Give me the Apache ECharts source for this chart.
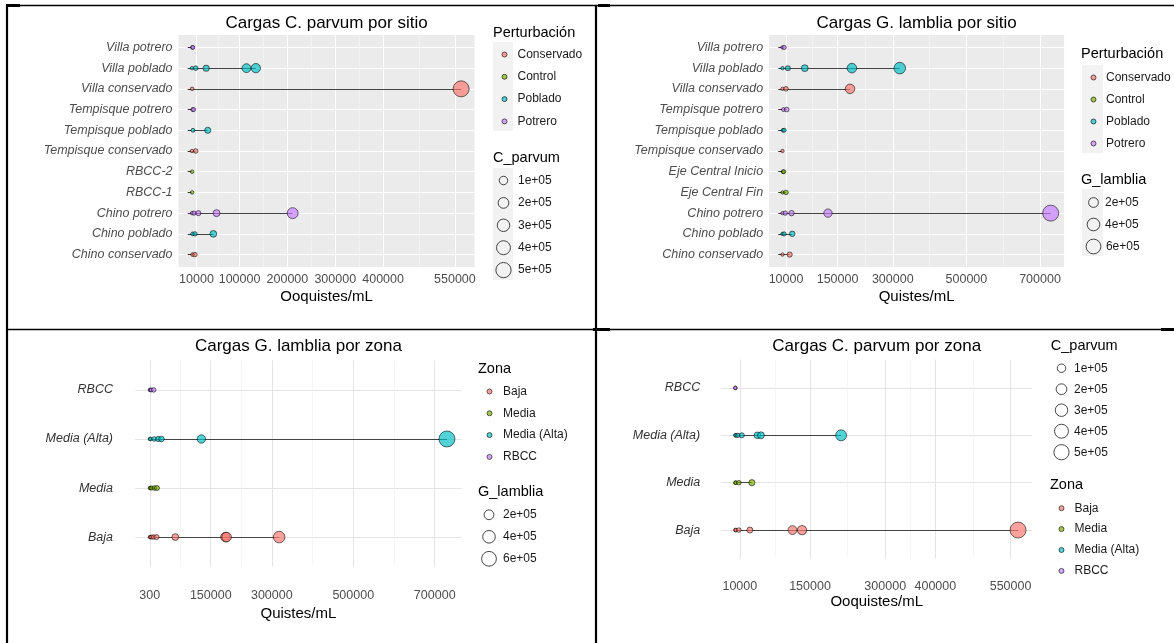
<!DOCTYPE html>
<html><head><meta charset="utf-8">
<script src="https://cdn.jsdelivr.net/npm/echarts@6/dist/echarts.min.js"></script>
<style>html,body{margin:0;padding:0;background:#fff}#c{width:1174px;height:643px}</style>
</head><body><div id="c"></div>
<script>
const FONT = '"Liberation Sans", Arial, Helvetica, sans-serif';
const palette = ['#F8766D', '#7CAE00', '#00BFC4', '#C77CFF'];
const perturbLevels = ['Conservado', 'Control', 'Poblado', 'Potrero'];
const zoneLevels = ['Baja', 'Media', 'Media (Alta)', 'RBCC'];

// Panel 1: C. parvum por sitio
const cpSitioCats = ['Villa potrero', 'Villa poblado', 'Villa conservado', 'Tempisque potrero', 'Tempisque poblado', 'Tempisque conservado', 'RBCC-2', 'RBCC-1', 'Chino potrero', 'Chino poblado', 'Chino conservado'];
const cpSitioGroup = ['Potrero', 'Poblado', 'Conservado', 'Potrero', 'Poblado', 'Conservado', 'Control', 'Control', 'Potrero', 'Poblado', 'Conservado'];
const cpSitioVals = [[1500, 2500], [600, 8400, 30300, 114500, 134100], [1000, 563000], [2000, 4000], [2700, 33600], [600, 8400], [1000], [1000], [1000, 5000, 14000, 52000, 211000], [2000, 6900, 45300], [2000, 6900]];
const cpSitioTicks = [10000, 100000, 200000, 300000, 400000, 550000];
const cpSizeBreaks = [100000, 200000, 300000, 400000, 500000];

// Panel 2: G. lamblia por sitio
const glSitioCats = ['Villa potrero', 'Villa poblado', 'Villa conservado', 'Tempisque potrero', 'Tempisque poblado', 'Tempisque conservado', 'Eje Central Inicio', 'Eje Central Fin', 'Chino potrero', 'Chino poblado', 'Chino conservado'];
const glSitioGroup = ['Potrero', 'Poblado', 'Conservado', 'Potrero', 'Poblado', 'Conservado', 'Control', 'Control', 'Potrero', 'Poblado', 'Conservado'];
const glSitioVals = [[500, 5000], [500, 15000, 61000, 189000, 319000], [500, 10000, 184000], [3000, 12000], [2000, 5000], [500], [2000, 4000], [500, 10000], [500, 8000, 25000, 124000, 729000], [500, 5000, 27000], [500, 20000]];
const glSitioTicks = [10000, 150000, 300000, 500000, 700000];
const glSizeBreaks = [200000, 400000, 600000];

// Panels 3 and 4: por zona
const zonaCats = ['RBCC', 'Media (Alta)', 'Media', 'Baja'];
const glZonaVals = [[500, 2000, 4000, 10000], [500, 2000, 11000, 21000, 29000, 127000, 730000], [500, 2000, 5000, 12000, 18000], [500, 2000, 5000, 10000, 17000, 63000, 186000, 189000, 318000]];
const glZonaTicks = [300, 150000, 300000, 500000, 700000];
const cpZonaVals = [[1000, 1000], [1000, 2000, 6000, 14000, 45000, 52000, 212000], [1000, 2000, 8000, 34000], [1000, 2000, 8000, 30000, 115000, 134000, 565000]];
const cpZonaTicks = [10000, 150000, 300000, 400000, 550000];

const panels = [
  { title: 'Cargas C. parvum por sitio', cats: cpSitioCats, groups: cpSitioGroup, vals: cpSitioVals, ticks: cpSitioTicks,
    levels: perturbLevels, sizeBreaks: cpSizeBreaks, colorTitle: 'Perturbación', sizeTitle: 'C_parvum', xName: 'Ooquistes/mL', gray: true,
    grid: { left: 178.5, top: 35, width: 296.1, height: 232 }, titleY: 25, labelMargin: 6, nameGap: 22, yMargin: 6,
    colorLeg: { x: 493, titleY: 34, y0: 54.5, step: 22.3, cx: 504, tx: 517.5 },
    sizeLeg: { x: 493, titleY: 159, y0: 180.5, step: 22.4, cx: 503, tx: 518 },
    keyBg: [[493, 42, 20, 89], [493, 168, 20, 112]] },
  { title: 'Cargas G. lamblia por sitio', cats: glSitioCats, groups: glSitioGroup, vals: glSitioVals, ticks: glSitioTicks,
    levels: perturbLevels, sizeBreaks: glSizeBreaks, colorTitle: 'Perturbación', sizeTitle: 'G_lamblia', xName: 'Quistes/mL', gray: true,
    grid: { left: 769.1, top: 35, width: 295, height: 232 }, titleY: 25, labelMargin: 6, nameGap: 22, yMargin: 6,
    colorLeg: { x: 1081, titleY: 55, y0: 77.5, step: 22, cx: 1093, tx: 1106 },
    sizeLeg: { x: 1081, titleY: 181, y0: 202.5, step: 22, cx: 1093, tx: 1105 },
    keyBg: [[1082, 65, 21, 88], [1082, 189, 21, 67]] },
  { title: 'Cargas G. lamblia por zona', cats: zonaCats, groups: zonaCats, vals: glZonaVals, ticks: glZonaTicks,
    levels: zoneLevels, sizeBreaks: glSizeBreaks, colorTitle: 'Zona', sizeTitle: 'G_lamblia', xName: 'Quistes/mL', gray: false,
    grid: { left: 135, top: 360.5, width: 326.8, height: 206 }, titleY: 348, labelMargin: 23, nameGap: 40, yMargin: 22,
    colorLeg: { x: 478, titleY: 370, y0: 391.5, step: 21.8, cx: 489, tx: 503 },
    sizeLeg: { x: 478, titleY: 493, y0: 514.8, step: 22, cx: 488.5, tx: 503 },
    keyBg: [] },
  { title: 'Cargas C. parvum por zona', cats: zonaCats, groups: zonaCats, vals: cpZonaVals, ticks: cpZonaTicks,
    levels: zoneLevels, sizeBreaks: cpSizeBreaks, colorTitle: 'Zona', sizeTitle: 'C_parvum', xName: 'Ooquistes/mL', gray: false,
    grid: { left: 721.2, top: 359.5, width: 311, height: 199 }, titleY: 348, labelMargin: 22, nameGap: 36, yMargin: 21,
    colorLeg: { x: 1050, titleY: 486.3, y0: 508.2, step: 20.9, cx: 1061, tx: 1074.5 },
    sizeLeg: { x: 1050.8, titleY: 347, y0: 368.2, step: 21, cx: 1061, tx: 1074 },
    keyBg: [] }
];

const ICON_TEXT_GAP = 5.5; // gap the library leaves between a legend icon and its text

function rgba(hex, a) {
  const n = parseInt(hex.slice(1), 16);
  return 'rgba(' + (n >> 16 & 255) + ',' + (n >> 8 & 255) + ',' + (n & 255) + ',' + a + ')';
}
function sizeLabel(v) { return (v / 100000) + 'e+05'; }
function dotSize(v, vmax) { return 3 + 13 * Math.sqrt(Math.max(v, 0) / vmax); }

const option = {
  animation: false,
  textStyle: { fontFamily: FONT },
  grid: [], xAxis: [], yAxis: [], series: [], legend: [], title: [], graphic: []
};
const dummyNames = new Set();

panels.forEach((p, pi) => {
  const all = p.vals.flat();
  const mn = Math.min(...all), mx = Math.max(...all);
  const pad = (mx - mn) * 0.05;
  const xmin = mn - pad, xmax = mx + pad;
  const minors = [];
  for (let i = 0; i < p.ticks.length - 1; i++) minors.push((p.ticks[i] + p.ticks[i + 1]) / 2);
  const majorCol = p.gray ? '#FFFFFF' : '#E4E4E4';
  const minorCol = p.gray ? '#F7F7F7' : '#F0F0F0';
  const idx = p.cats.map((c, i) => i);

  option.grid.push({ left: p.grid.left, top: p.grid.top, width: p.grid.width, height: p.grid.height,
    show: p.gray, backgroundColor: '#EBEBEB', borderWidth: 0 });

  option.xAxis.push({
    type: 'value', gridIndex: pi, min: xmin, max: xmax, position: 'bottom',
    name: p.xName, nameLocation: 'middle', nameGap: p.nameGap,
    nameTextStyle: { fontSize: 15, color: '#000', fontFamily: FONT },
    axisLine: { show: false },
    axisTick: { show: false, customValues: p.ticks },
    axisLabel: { customValues: p.ticks, margin: p.labelMargin, fontSize: 12.5, color: '#4D4D4D', fontFamily: FONT, formatter: v => String(Math.round(v)) },
    splitLine: { show: true, lineStyle: { color: majorCol, width: p.gray ? 1.1 : 1 } }
  });
  option.xAxis.push({
    type: 'value', gridIndex: pi, min: xmin, max: xmax, position: 'top',
    axisLine: { show: false }, axisLabel: { show: false },
    axisTick: { show: false, customValues: minors },
    splitLine: { show: true, lineStyle: { color: minorCol, width: 0.6 } }
  });
  option.yAxis.push({
    type: 'value', gridIndex: pi, min: -0.6, max: p.cats.length - 0.4, inverse: true,
    axisLine: { show: false },
    axisTick: { show: p.gray, customValues: idx, length: 4, lineStyle: { color: '#333333', width: 1 } },
    axisLabel: { customValues: idx, margin: p.yMargin, fontSize: 12.5, fontStyle: 'italic', color: p.gray ? '#4D4D4D' : '#333333', fontFamily: FONT,
      formatter: v => p.cats[Math.round(v)] },
    splitLine: { show: true, lineStyle: { color: majorCol, width: p.gray ? 1.1 : 1 } }
  });

  // segment from min to max for each row
  option.series.push({
    type: 'lines', coordinateSystem: 'cartesian2d', xAxisIndex: 2 * pi, yAxisIndex: pi, silent: true, z: 2,
    lineStyle: { color: '#444444', width: 1, opacity: 1 },
    data: p.vals.map((a, i) => ({ coords: [[Math.min(...a), i], [Math.max(...a), i]] }))
  });
  p.levels.forEach((lv, k) => {
    const data = [];
    p.vals.forEach((a, i) => { if (p.groups[i] === lv) a.forEach(v => data.push([v, i])); });
    option.series.push({
      type: 'scatter', name: lv, xAxisIndex: 2 * pi, yAxisIndex: pi, z: 3,
      symbolSize: d => dotSize(d[0], mx),
      itemStyle: { color: rgba(palette[k], 0.85), borderColor: 'rgba(0,0,0,0.7)', borderWidth: 1 },
      data
    });
  });

  // titles
  option.title.push({ text: p.title, left: p.grid.left + p.grid.width / 2, top: p.titleY - 10, textAlign: 'center', padding: 0,
    textStyle: { fontSize: 17, fontWeight: 'normal', color: '#000', fontFamily: FONT } });
  option.title.push({ text: p.colorTitle, left: p.colorLeg.x, top: p.colorLeg.titleY - 9, padding: 0,
    textStyle: { fontSize: 14.5, fontWeight: 'normal', color: '#000', fontFamily: FONT } });
  option.title.push({ text: p.sizeTitle, left: p.sizeLeg.x, top: p.sizeLeg.titleY - 9, padding: 0,
    textStyle: { fontSize: 14.5, fontWeight: 'normal', color: '#000', fontFamily: FONT } });

  // colour legend (square icon box; text shifted by padding)
  const cl = p.colorLeg;
  option.legend.push({
    orient: 'vertical', left: cl.cx - 2.5, top: cl.y0 - cl.step / 2, padding: 0, itemGap: 0,
    itemWidth: 5, itemHeight: 5, selectedMode: false, icon: 'circle',
    textStyle: { fontSize: 12, lineHeight: cl.step, color: '#1A1A1A', fontFamily: FONT, padding: [0, 0, 0, Math.max(0, cl.tx - cl.cx - 2.5 - ICON_TEXT_GAP)] },
    data: p.levels.map((n, k) => ({ name: n, itemStyle: { color: rgba(palette[k], 0.85), borderColor: 'rgba(0,0,0,0.75)', borderWidth: 1 } }))
  });
  // size legend: one component per break
  const sl = p.sizeLeg;
  p.sizeBreaks.forEach((b, j) => {
    const nm = sizeLabel(b);
    dummyNames.add(nm);
    const d = dotSize(b, mx);
    option.legend.push({
      orient: 'vertical', left: sl.cx - d / 2, top: sl.y0 + j * sl.step - 11, padding: 0,
      itemWidth: d, itemHeight: d, selectedMode: false, icon: 'circle',
      textStyle: { fontSize: 12, lineHeight: 22, color: '#1A1A1A', fontFamily: FONT, padding: [0, 0, 0, Math.max(0, sl.tx - sl.cx - d / 2 - ICON_TEXT_GAP)] },
      data: [{ name: nm, itemStyle: { color: 'rgba(255,255,255,0)', borderColor: '#1A1A1A', borderWidth: 1 } }]
    });
  });
  p.keyBg.forEach(r => option.graphic.push({ type: 'rect', shape: { x: r[0], y: r[1], width: r[2], height: r[3] }, style: { fill: '#F2F2F2' }, z: 0 }));
});

dummyNames.forEach(nm => option.series.push({ type: 'scatter', name: nm, xAxisIndex: 0, yAxisIndex: 0, data: [] }));

// table borders
const L = (x1, y1, x2, y2, w) => ({ type: 'line', shape: { x1, y1, x2, y2 }, style: { stroke: '#000', lineWidth: w }, z: 10 });
option.graphic.push(
  L(6, 5.5, 1174, 5.5, 1.3), L(6, 5.5, 20, 5.5, 3), L(598, 5.5, 610, 5.5, 3),
  L(7, 5, 7, 643, 2.2), L(596, 5, 596, 643, 2.2),
  L(6, 329.5, 1174, 329.5, 1.3), L(593, 329.5, 610, 329.5, 3), L(1161, 329.5, 1174, 329.5, 3)
);

const chart = echarts.init(document.getElementById('c'), null, { renderer: 'canvas' });
chart.setOption(option);
</script>
</body></html>
